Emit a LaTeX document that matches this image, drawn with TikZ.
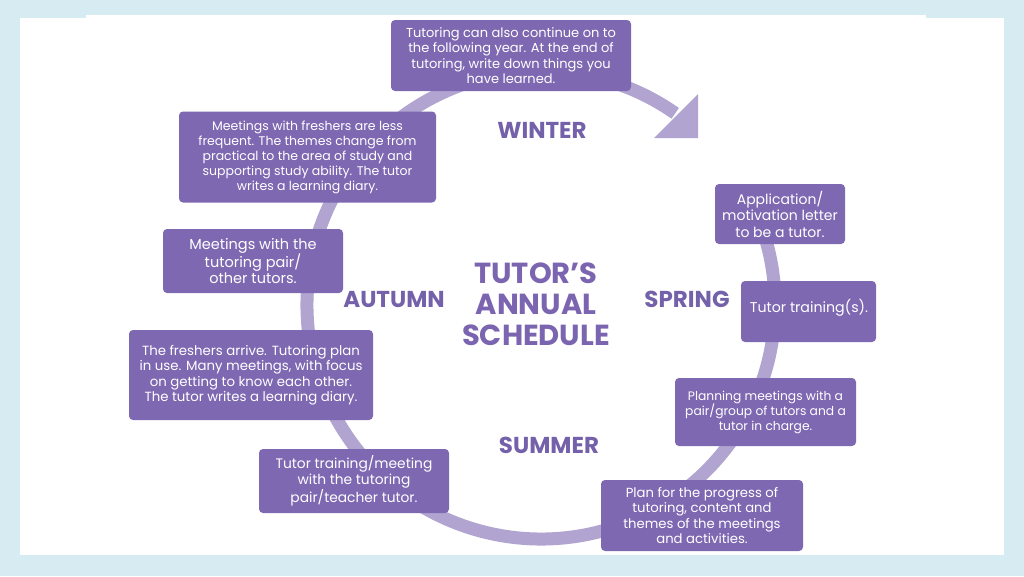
\documentclass[tikz,border=0pt]{standalone}
\usepackage{fontspec}
\setmainfont{Poppins}
\newfontfamily\boxfont{Poppins}
\definecolor{bgblue}{HTML}{D6ECF2}
\definecolor{ringcol}{HTML}{B1A4D0}
\definecolor{boxcol}{HTML}{7E68B2}
\definecolor{labcol}{HTML}{7461AA}
\definecolor{titlecol}{HTML}{7B64B0}
\newcommand{\bsz}[2]{\fontsize{#1}{#2}\selectfont}
\tikzset{
  box/.style={fill=boxcol, rounded corners=4pt, text=white, align=center,
    inner sep=0pt, font=\boxfont\bsz{13}{15.5}},
  season/.style={text=labcol, font=\bfseries\fontsize{23}{25}\selectfont},
  ttl/.style={text=titlecol, align=center, font=\bfseries\fontsize{29}{31}\selectfont}
}
\begin{document}
\begin{tikzpicture}[x=1pt,y=-1pt]
\useasboundingbox (0,0) rectangle (1024,576);
\fill[bgblue] (0,0) rectangle (1024,576);
\fill[white] (20,18) rectangle (1004,555);
\fill[white] (86,15) rectangle (926,18);
% ring
\draw[ringcol, line width=13pt] (541,305) ++(-28:234) arc[start angle=-28, end angle=305, radius=234];
\fill[ringcol] (698,94) -- (698,138) -- (654,138) -- cycle;
% boxes
\node[box, minimum width=240, minimum height=71] (b1) at (511,55.5)
  {Tutoring can also continue on to\\the following year. At the end of\\tutoring, write down things you\\have learned.};
\node[box, minimum width=257, minimum height=91, font=\boxfont\bsz{12.5}{15}] (b2) at (307.5,157)
  {Meetings with freshers are less\\frequent. The themes change from\\practical to the area of study and\\supporting study ability. The tutor\\writes a learning diary.};
\node[box, minimum width=180, minimum height=64, font=\boxfont\bsz{14.5}{16}] (b3) at (253,261)
  {Meetings with the\\tutoring pair/\\other tutors.};
\node[box, minimum width=244, minimum height=90, font=\boxfont\bsz{13.3}{15.5}] (b4) at (251,375)
  {The freshers arrive. Tutoring plan\\in use. Many meetings, with focus\\on getting to know each other.\\The tutor writes a learning diary.};
\node[box, minimum width=190, minimum height=64, font=\boxfont\bsz{13.8}{16}] (b5) at (354,481)
  {Tutor training/meeting\\with the tutoring\\pair/teacher tutor.};
\node[box, minimum width=202, minimum height=71, font=\boxfont\bsz{13.2}{15.5}] (b6) at (702,515.5)
  {Plan for the progress of\\tutoring, content and\\themes of the meetings\\and activities.};
\node[box, minimum width=181, minimum height=68, font=\boxfont\bsz{12.3}{15}] (b7) at (765.5,412)
  {Planning meetings with a\\pair/group of tutors and a\\tutor in charge.};
\node[box, minimum width=135, minimum height=61] (b8) at (808.5,311.5) {};
\node[text=white, font=\boxfont\bsz{14.2}{16}, inner sep=0pt] (b8t) at (809,308) {Tutor training(s).};
\node[box, minimum width=130, minimum height=60, font=\boxfont\bsz{14}{16.5}] (b9) at (780,214)
  {Application/\\motivation letter\\to be a tutor.};
% labels
\node[season] (winter) at (542,130) {WINTER};
\node[season] (autumn) at (394,299) {AUTUMN};
\node[season] (spring) at (687,299) {SPRING};
\node[season] (summer) at (549,445) {SUMMER};
\node[ttl] (title) at (536,304) {TUTOR’S\\ANNUAL\\SCHEDULE};
\end{tikzpicture}
\end{document}
